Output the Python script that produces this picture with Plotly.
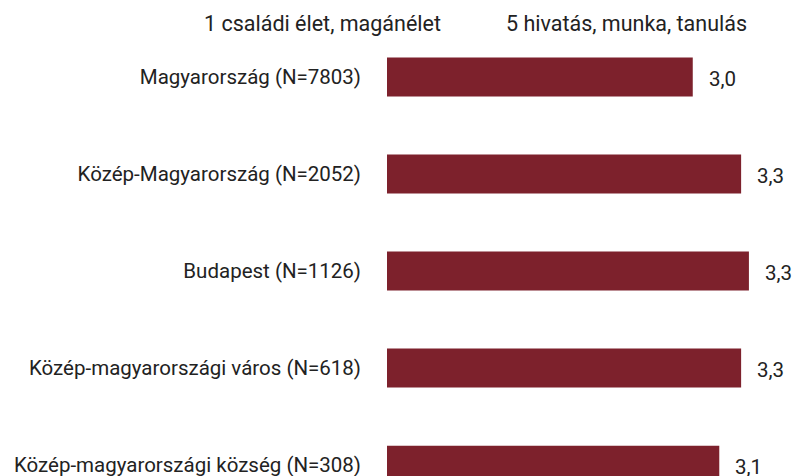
import plotly.graph_objects as go

categories = [
    "Magyarország (N=7803)",
    "Közép-Magyarország (N=2052)",
    "Budapest (N=1126)",
    "Közép-magyarországi város (N=618)",
    "Közép-magyarországi község (N=308)",
]
values = [2.96, 3.27, 3.32, 3.27, 3.13]
scale_min_label = "1 családi élet, magánélet"
scale_max_label = "5 hivatás, munka, tanulás"

FONT = "Roboto"
BAR_COLOR = "#7d212c"
TEXT_COLOR = "#222222"

idx = list(range(len(categories)))
fig = go.Figure()
fig.add_trace(go.Bar(
    y=idx,
    x=[v - 1 for v in values],
    base=1,
    orientation="h",
    marker=dict(color=BAR_COLOR, line=dict(width=0)),
    width=0.40,
    hoverinfo="skip",
))

for i, v in zip(idx, values):
    fig.add_annotation(
        x=v, y=i, xref="x", yref="y",
        text=f"{v:.1f}".replace(".", ","),
        showarrow=False, xanchor="left", yanchor="middle",
        xshift=14, yshift=-2,
        font=dict(family=FONT, size=20.5, color=TEXT_COLOR),
    )

fig.add_annotation(x=0.1376, y=1, xref="paper", yref="paper", yshift=5,
                   text=scale_min_label, showarrow=False, xanchor="right", yanchor="middle",
                   font=dict(family=FONT, size=21.5, color=TEXT_COLOR))
fig.add_annotation(x=0.2875, y=1, xref="paper", yref="paper", yshift=5,
                   text=scale_max_label, showarrow=False, xanchor="left", yanchor="middle",
                   font=dict(family=FONT, size=21.5, color=TEXT_COLOR))

fig.update_layout(
    width=794, height=476,
    margin=dict(l=387, r=0, t=28, b=0),
    paper_bgcolor="white", plot_bgcolor="white",
    showlegend=False,
    font=dict(family=FONT, size=21, color=TEXT_COLOR),
    xaxis=dict(range=[1, 3.609], visible=False, fixedrange=True),
    yaxis=dict(
        range=[4.113, -0.505],
        tickmode="array", tickvals=idx, ticktext=categories,
        showgrid=False, zeroline=False, showline=False,
        ticks="", ticklabelstandoff=25, ticklabeloverflow="allow",
        tickfont=dict(family=FONT, size=20.5, color=TEXT_COLOR),
        fixedrange=True,
    ),
)

fig.write_html(
    "out.html",
    config={"displayModeBar": False},
    post_script="document.body.style.margin='0';document.body.style.overflow='hidden';"
                "document.documentElement.style.overflow='hidden';",
)
